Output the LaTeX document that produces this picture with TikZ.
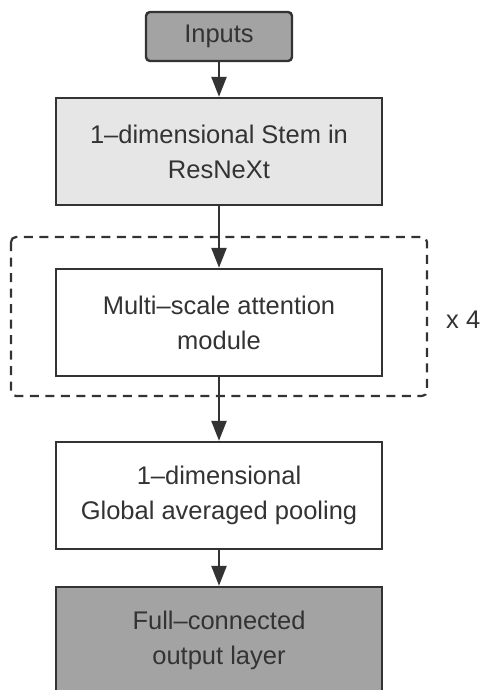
\documentclass[tikz,border=0pt]{standalone}
\usepackage{fontspec}
\setmainfont{Liberation Sans}
\usetikzlibrary{arrows.meta}
\definecolor{ink}{HTML}{333333}
\definecolor{darkfill}{HTML}{A3A3A3}
\definecolor{lightfill}{HTML}{E6E6E6}
\tikzset{
  box/.style={draw=ink, line width=2.4pt, minimum width=326pt, minimum height=107pt,
    align=center, text=ink, font=\fontsize{25.5}{35}\selectfont, inner sep=0pt},
  conn/.style={draw=ink, line width=2.4pt, -{Triangle[length=20pt,width=15pt]}},
  group/.style={draw=ink, line width=2.2pt, dash pattern=on 9pt off 6.5pt, rounded corners=5pt}
}
\begin{document}
\begin{tikzpicture}[x=1pt,y=-1pt]
\clip (0,0) rectangle (491,690);
\fill[white] (0,0) rectangle (491,690);
\draw[group] (11,237) rectangle (427,396);
\node[box, fill=darkfill, minimum width=146pt, minimum height=49pt, rounded corners=4pt] (in) at (219,36.5) {Inputs};
\node[box, fill=lightfill] (stem) at (219,151.5) {1--dimensional Stem in\\ResNeXt};
\node[box, fill=white] (msa) at (219,322.5) {Multi--scale attention\\module};
\node[box, fill=white] (gap) at (219,495.5) {1--dimensional\\Global averaged pooling};
\node[box, fill=darkfill] (fc) at (219,640.5) {Full--connected\\output layer};
\node[text=ink, font=\fontsize{25.5}{30}\selectfont, anchor=west, inner sep=0pt] (rep) at (446,320) {x 4};
\draw[conn] (in) -- (stem);
\draw[conn] (stem) -- (msa);
\draw[conn] (msa) -- (gap);
\draw[conn] (gap) -- (fc);
\end{tikzpicture}
\end{document}
